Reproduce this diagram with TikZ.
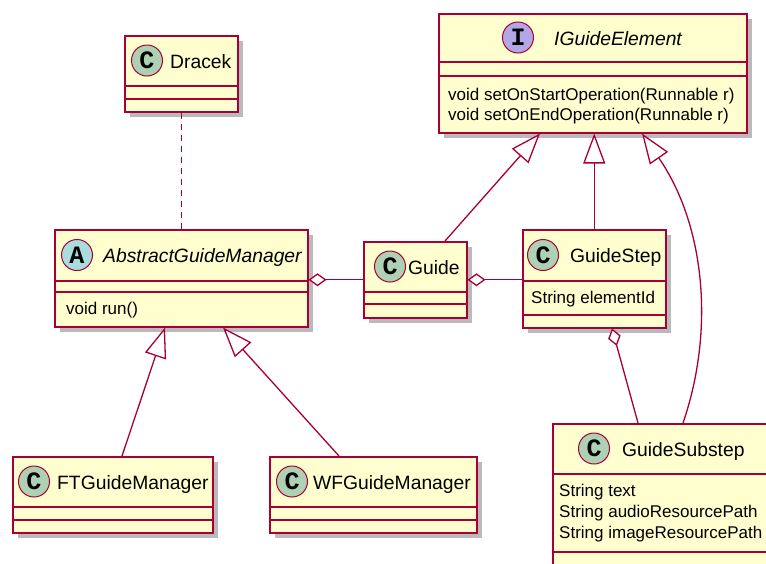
\documentclass[tikz,border=0pt]{standalone}
\usepackage{xcolor}
\usepackage{fontspec}
\setmainfont{Liberation Sans}
\setmonofont{Liberation Mono}
\usepackage{tikz}
\usetikzlibrary{arrows.meta, positioning, calc, shadows}
\definecolor{umlred}{RGB}{168,0,54}
\definecolor{umlfill}{RGB}{254,254,206}
\definecolor{iconc}{RGB}{173,209,178}
\definecolor{icona}{RGB}{169,220,223}
\definecolor{iconi}{RGB}{180,167,229}
\tikzset{
  classbox/.style={rectangle, draw=umlred, fill=umlfill, line width=1.5pt,
    anchor=north west, inner sep=0pt,
    drop shadow={shadow xshift=5pt, shadow yshift=-5pt, opacity=0.45, fill=black!60}},
  sepline/.style={draw=umlred, line width=1.5pt},
  icon/.style={circle, draw=umlred, line width=1pt, minimum size=31pt, inner sep=0pt,
    font=\fontsize{25}{25}\selectfont\ttfamily\bfseries},
  clsname/.style={anchor=base west, inner sep=0pt, font=\fontsize{19.3}{23}\selectfont},
  member/.style={anchor=base west, inner sep=0pt, font=\fontsize{17}{21}\selectfont},
  inherit/.style={-{Triangle[length=30pt, width=22pt, fill=white]}, draw=umlred, line width=1.3pt},
  aggr/.style={-{Diamond[length=18pt, width=13pt, fill=white]}, draw=umlred, line width=1.3pt},
  depend/.style={draw=umlred, line width=1.3pt, dash pattern=on 6pt off 5pt}
}

\begin{document}
\begin{tikzpicture}[x=1pt, y=-1pt]
  \clip (0,0) rectangle (766,563);
  \fill[white] (0,0) rectangle (766,563);

  % Dracek
  \node[classbox, minimum width=113pt, minimum height=76pt] (dracek) at (124,35) {};
  \draw[sepline] ([yshift=-51pt]dracek.north west) -- ([yshift=-51pt]dracek.north east);
  \draw[sepline] ([yshift=-64pt]dracek.north west) -- ([yshift=-64pt]dracek.north east);
  \node[icon, fill=iconc] (dracek-icon) at (147,60.5) {C};
  \node[clsname] (dracek-name) at (170,68) {Dracek};

  % IGuideElement (interface)
  \node[classbox, minimum width=308pt, minimum height=119pt] (ige) at (438,13) {};
  \draw[sepline] ([yshift=-49pt]ige.north west) -- ([yshift=-49pt]ige.north east);
  \draw[sepline] ([yshift=-63pt]ige.north west) -- ([yshift=-63pt]ige.north east);
  \node[icon, fill=iconi] (ige-icon) at (518,37.5) {I};
  \node[clsname, font=\fontsize{19.3}{23}\selectfont\itshape] (ige-name) at (554,45) {IGuideElement};
  \node[member] (ige-m1) at (448,100) {void setOnStartOperation(Runnable r)};
  \node[member] (ige-m2) at (448,120) {void setOnEndOperation(Runnable r)};

  % AbstractGuideManager
  \node[classbox, minimum width=253pt, minimum height=97pt] (agm) at (54,229) {};
  \draw[sepline] ([yshift=-52pt]agm.north west) -- ([yshift=-52pt]agm.north east);
  \draw[sepline] ([yshift=-63pt]agm.north west) -- ([yshift=-63pt]agm.north east);
  \node[icon, fill=icona] (agm-icon) at (77,255) {A};
  \node[clsname, font=\fontsize{19.3}{23}\selectfont\itshape] (agm-name) at (103,262) {AbstractGuideManager};
  \node[member] (agm-m1) at (66,314) {void run()};

  % Guide
  \node[classbox, minimum width=103pt, minimum height=76pt] (guide) at (363,241) {};
  \draw[sepline] ([yshift=-51pt]guide.north west) -- ([yshift=-51pt]guide.north east);
  \draw[sepline] ([yshift=-63pt]guide.north west) -- ([yshift=-63pt]guide.north east);
  \node[icon, fill=iconc] (guide-icon) at (390,266.5) {C};
  \node[clsname] (guide-name) at (408,274) {Guide};

  % GuideStep
  \node[classbox, minimum width=143pt, minimum height=98pt] (step) at (522,229) {};
  \draw[sepline] ([yshift=-52pt]step.north west) -- ([yshift=-52pt]step.north east);
  \draw[sepline] ([yshift=-86pt]step.north west) -- ([yshift=-86pt]step.north east);
  \node[icon, fill=iconc] (step-icon) at (543,255) {C};
  \node[clsname] (step-name) at (570,262) {GuideStep};
  \node[member] (step-m1) at (531,303) {String elementId};

  % GuideSubstep
  \node[classbox, minimum width=230pt, minimum height=145pt] (substep) at (552,423) {};
  \draw[sepline] ([yshift=-51pt]substep.north west) -- ([yshift=-51pt]substep.north east);
  \draw[sepline] ([yshift=-129pt]substep.north west) -- ([yshift=-129pt]substep.north east);
  \node[icon, fill=iconc] (substep-icon) at (594,448.5) {C};
  \node[clsname] (substep-name) at (622,456) {GuideSubstep};
  \node[member] (substep-m1) at (559,496) {String text};
  \node[member] (substep-m2) at (559,517) {String audioResourcePath};
  \node[member] (substep-m3) at (559,538) {String imageResourcePath};

  % FTGuideManager
  \node[classbox, minimum width=200pt, minimum height=76pt] (ftgm) at (12,456) {};
  \draw[sepline] ([yshift=-51pt]ftgm.north west) -- ([yshift=-51pt]ftgm.north east);
  \draw[sepline] ([yshift=-64pt]ftgm.north west) -- ([yshift=-64pt]ftgm.north east);
  \node[icon, fill=iconc] (ftgm-icon) at (34,481.5) {C};
  \node[clsname] (ftgm-name) at (57,489) {FTGuideManager};

  % WFGuideManager
  \node[classbox, minimum width=207pt, minimum height=76pt] (wfgm) at (269,456) {};
  \draw[sepline] ([yshift=-51pt]wfgm.north west) -- ([yshift=-51pt]wfgm.north east);
  \draw[sepline] ([yshift=-64pt]wfgm.north west) -- ([yshift=-64pt]wfgm.north east);
  \node[icon, fill=iconc] (wfgm-icon) at (292,481.5) {C};
  \node[clsname] (wfgm-name) at (313,489) {WFGuideManager};

  % Dependency
  \draw[depend] (dracek) -- (agm);

  % Aggregations
  \draw[aggr] (guide.west) -- (agm.east |- guide.west);
  \draw[aggr] (step.west |- guide.east) -- (guide.east);
  \draw[aggr] ([xshift=86pt]substep.north west) -- ([xshift=90pt]step.south west);

  % Realizations of IGuideElement
  \draw[inherit] ([xshift=82pt]guide.north west) -- ([xshift=102pt]ige.south west);
  \draw[inherit] (step) -- (step |- ige.south);
  \draw[inherit] ([xshift=131pt]substep.north west) .. controls (715,330) and (705,225) .. ([xshift=204pt]ige.south west);

  % Subclasses of AbstractGuideManager
  \draw[inherit] ([xshift=110pt]ftgm.north west) -- ([xshift=111pt]agm.south west);
  \draw[inherit] ([xshift=70pt]wfgm.north west) -- ([xshift=169pt]agm.south west);
\end{tikzpicture}
\end{document}
